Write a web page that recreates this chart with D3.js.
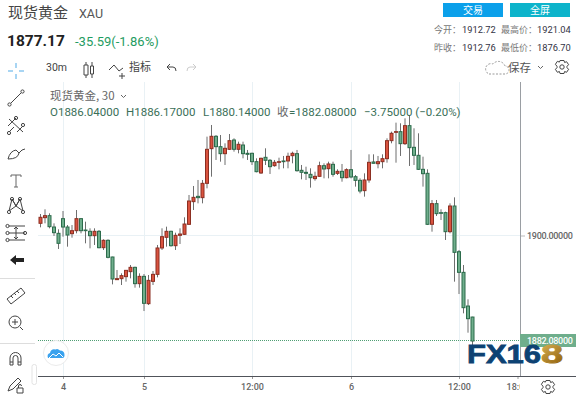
<!DOCTYPE html>
<html>
<head>
<meta charset="utf-8">
<script src="https://cdn.jsdelivr.net/npm/d3@7"></script>
<style>
  html, body { margin: 0; padding: 0; background: #fff; }
  svg { display: block; }
  text { font-family: "Noto Sans CJK SC", Roboto, sans-serif; }
</style>
</head>
<body>
<div id="chart"></div>
<script>
// 30 minute candles
const opens = [1902.07,1903.03,1903.37,1901.44,1900.37,1902.86,1901.44,1900.31,1900.82,1902.86,
  1900.93,1900.71,1899.97,1900.71,1897.93,1899.18,1896.35,1892.50,1892.67,1893.01,
  1893.86,1894.59,1891.82,1893.06,1888.42,1892.21,1893.40,1897.88,1899.69,1900.71,
  1898.27,1900.03,1900.20,1901.90,1905.75,1906.65,1906.43,1908.86,1914.75,1916.85,
  1915.09,1913.90,1914.64,1916.22,1914.64,1915.37,1913.96,1913.96,1912.54,1910.62,
  1913.28,1912.77,1911.86,1912.43,1912.66,1912.66,1913.56,1913.90,1911.07,1910.73,
  1910.39,1909.66,1910.05,1911.86,1911.35,1912.09,1910.56,1910.90,1909.82,1911.18,
  1909.99,1909.37,1907.62,1909.43,1912.49,1912.20,1912.54,1913.05,1916.11,1917.53,
  1917.64,1915.60,1918.66,1914.98,1913.62,1911.24,1910.56,1901.90,1905.41,1903.88,
  1903.88,1900.65,1905.01,1897.25,1893.74,1888.02,1886.15];
const highs = [1903.65,1904.45,1903.77,1902.07,1901.05,1904.16,1901.78,1901.78,1904.33,1902.97,
  1902.35,1901.22,1901.22,1900.93,1899.35,1899.35,1896.40,1894.14,1893.57,1894.14,
  1894.99,1894.71,1893.57,1893.46,1893.29,1893.97,1898.39,1901.22,1901.50,1900.82,
  1900.48,1901.22,1903.09,1906.88,1908.41,1909.43,1909.43,1916.79,1918.77,1917.07,
  1917.07,1915.66,1917.24,1916.51,1915.94,1915.94,1914.53,1914.07,1913.11,1913.22,
  1914.81,1912.99,1912.83,1913.22,1913.51,1914.07,1914.24,1914.53,1911.98,1911.69,
  1911.41,1910.84,1912.54,1912.26,1912.54,1912.54,1911.24,1912.15,1911.41,1914.53,
  1910.28,1909.71,1910.56,1913.79,1913.79,1913.51,1913.79,1916.51,1917.64,1919.17,
  1919.06,1919.90,1920.47,1918.21,1917.36,1913.39,1911.24,1906.03,1906.03,1904.45,
  1904.05,1905.46,1906.48,1897.54,1894.99,1889.16,1886.20];
const lows = [1901.39,1902.07,1901.22,1899.92,1897.71,1899.80,1898.10,1899.63,1900.37,1900.37,
  1898.67,1897.82,1898.39,1897.82,1897.54,1896.12,1891.70,1892.44,1891.59,1892.16,
  1892.72,1891.14,1891.14,1887.17,1888.19,1891.59,1892.89,1897.54,1898.10,1898.10,
  1897.54,1898.56,1900.08,1901.78,1904.33,1905.46,1905.46,1908.01,1909.99,1912.83,
  1912.54,1911.98,1914.53,1914.24,1913.96,1913.11,1912.83,1911.98,1910.73,1910.45,
  1911.98,1910.45,1911.69,1911.24,1911.41,1911.41,1912.26,1910.84,1909.54,1909.43,
  1908.13,1909.31,1909.99,1909.71,1909.71,1909.99,1910.28,1909.14,1909.71,1909.71,
  1908.30,1907.16,1906.60,1908.97,1912.26,1911.41,1911.41,1912.37,1915.66,1912.37,
  1913.51,1915.37,1911.81,1911.98,1911.13,1908.30,1901.78,1900.65,1903.31,1902.63,
  1899.24,1900.37,1892.16,1890.06,1886.78,1883.49,1881.40];
const closes = [1903.09,1903.37,1901.50,1900.48,1898.67,1901.44,1900.08,1900.82,1902.86,1900.82,
  1900.82,1899.97,1900.71,1897.93,1899.18,1896.29,1892.61,1892.67,1893.18,1894.08,
  1894.59,1891.82,1893.06,1888.48,1892.38,1893.40,1897.88,1899.80,1900.71,1898.27,
  1900.03,1900.25,1901.95,1905.86,1906.48,1906.43,1908.86,1914.64,1916.85,1915.09,
  1913.90,1914.81,1916.11,1914.64,1915.49,1913.90,1913.79,1912.54,1910.84,1913.11,
  1912.77,1911.69,1912.43,1912.54,1912.54,1913.45,1913.96,1911.01,1910.73,1910.56,
  1909.82,1910.05,1911.86,1911.30,1912.15,1910.39,1910.90,1909.82,1911.18,1909.94,
  1909.37,1907.56,1909.43,1912.43,1912.26,1912.54,1913.05,1916.11,1917.36,1917.64,
  1915.60,1918.66,1914.92,1913.62,1911.24,1910.50,1901.90,1905.41,1903.71,1903.77,
  1900.65,1905.01,1897.14,1893.74,1887.74,1885.87,1882.08];

// x axis: bar index of each label
const tickBars = [5, 23, 47, 69, 93, 106];
const tickLabels = ["4", "5", "12:00", "6", "12:00", "18:00"];
const priceTicks = [1900];
const lastPrice = 1882.08;

const candles = opens.map((o, i) => ({i: i, o: o, h: highs[i], l: lows[i], c: closes[i]}));

const W = 576, H = 396;
const pane = {left: 38, right: 520, top: 82, bottom: 376};

const UP = "#d9533f", UP_LINE = "#8c2f22";
const DOWN = "#6fae8c", DOWN_LINE = "#2c6b4b";
const GRID = "#e9f1f5";
const AXIS_FONT = 9;

const svg = d3.select("#chart").append("svg").attr("width", W).attr("height", H);

svg.append("clipPath").attr("id", "clip-pane")
  .append("rect").attr("x", pane.left).attr("y", pane.top)
  .attr("width", pane.right - pane.left).attr("height", pane.bottom - pane.top);

// scales
const x = d3.scaleLinear().domain([0, 105]).range([40.5, 513]);
const y = d3.scaleLinear().domain([1882.08, 1900]).range([341, 235.5]);

// grid, the 18:00 line sits against the price axis so it is left out
const grid = svg.append("g");
grid.selectAll(".vgrid").data(tickBars.slice(0, -1)).enter().append("line")
  .attr("x1", d => Math.round(x(d)) + 0.5).attr("x2", d => Math.round(x(d)) + 0.5)
  .attr("y1", pane.top).attr("y2", pane.bottom)
  .attr("stroke", GRID);
grid.selectAll(".hgrid").data(priceTicks).enter().append("line")
  .attr("x1", pane.left).attr("x2", pane.right)
  .attr("y1", d => y(d)).attr("y2", d => y(d))
  .attr("stroke", GRID);

// candles
const plot = svg.append("g").attr("clip-path", "url(#clip-pane)");
plot.selectAll(".wick").data(candles).enter().append("line")
  .attr("class", "wick")
  .attr("x1", d => x(d.i)).attr("x2", d => x(d.i))
  .attr("y1", d => y(d.h)).attr("y2", d => y(d.l))
  .attr("stroke", "#6f6f6f");
plot.selectAll(".body").data(candles).enter().append("rect")
  .attr("class", "body")
  .attr("x", d => x(d.i) - 1.5).attr("width", 3)
  .attr("y", d => y(Math.max(d.o, d.c)))
  .attr("height", d => Math.max(0.5, Math.abs(y(d.o) - y(d.c))))
  .attr("fill", d => d.c >= d.o ? UP : DOWN)
  .attr("stroke", d => d.c >= d.o ? UP_LINE : DOWN_LINE);

// last price line
plot.append("line")
  .attr("x1", pane.left).attr("x2", pane.right)
  .attr("y1", 340.5).attr("y2", 340.5)
  .attr("stroke", "#4f9e74").attr("stroke-dasharray", "1 1");

// price axis
const yAxis = svg.append("g").attr("transform", `translate(${pane.right},0)`)
  .call(d3.axisRight(y).tickValues(priceTicks).tickSize(5).tickPadding(2).tickFormat(d3.format(".5f")));
yAxis.select(".domain").remove();
yAxis.selectAll("line").attr("stroke", "#bbb");
yAxis.selectAll("text").attr("font-size", AXIS_FONT).attr("font-weight", 500).attr("fill", "#666")
  .attr("letter-spacing", -0.3).style("font-family", "Roboto");

svg.append("line").attr("x1", pane.right + 0.5).attr("x2", pane.right + 0.5)
  .attr("y1", pane.top).attr("y2", pane.bottom).attr("stroke", "#9a9ea3");

svg.append("rect").attr("x", pane.right).attr("y", 334).attr("width", W - pane.right).attr("height", 13)
  .attr("fill", "#6fae8c");
svg.append("text").attr("x", 527).attr("y", y(lastPrice) + 3)
  .attr("font-size", AXIS_FONT).attr("fill", "#fff").style("font-family", "Roboto").attr("font-weight", 500)
  .attr("letter-spacing", -0.3)
  .text(d3.format(".5f")(lastPrice));

// time axis, the last label runs under the price axis
svg.append("clipPath").attr("id", "clip-time-axis")
  .append("rect").attr("x", 0).attr("y", -2).attr("width", pane.right).attr("height", 30);
const xAxis = svg.append("g").attr("transform", `translate(0,${pane.bottom})`)
  .attr("clip-path", "url(#clip-time-axis)")
  .call(d3.axisBottom(x).tickValues(tickBars).tickSize(3).tickPadding(5)
    .tickFormat((d, i) => tickLabels[i]));
xAxis.select(".domain").remove();
xAxis.selectAll("line").attr("stroke", "#999");
xAxis.selectAll("text").attr("font-size", AXIS_FONT).attr("font-weight", 500).attr("fill", "#666")
  .style("font-family", "Roboto");

svg.append("line").attr("x1", pane.left).attr("x2", W)
  .attr("y1", pane.bottom + 0.5).attr("y2", pane.bottom + 0.5).attr("stroke", "#50535a");

// watermark
const gold = svg.append("defs").append("linearGradient").attr("id", "gold")
  .attr("x1", 0).attr("x2", 0.6).attr("y1", 0).attr("y2", 1);
gold.append("stop").attr("offset", "0%").attr("stop-color", "#dcb85c");
gold.append("stop").attr("offset", "100%").attr("stop-color", "#96660f");
svg.append("text").attr("x", 467).attr("y", 363).attr("font-size", 25).attr("font-weight", 700)
  .attr("fill", "#0d4273").attr("stroke", "#0d4273").attr("stroke-width", 0.8)
  .style("font-family", "Liberation Sans")
  .attr("textLength", 74).attr("lengthAdjust", "spacingAndGlyphs").text("FX16");
svg.append("text").attr("x", 541).attr("y", 363).attr("font-size", 25).attr("font-weight", 700)
  .attr("fill", "url(#gold)").attr("stroke", "url(#gold)").attr("stroke-width", 0.8)
  .style("font-family", "Liberation Sans")
  .attr("textLength", 22).attr("lengthAdjust", "spacingAndGlyphs").text("8");

// header
function label(txt, px, py, size, fill, opts) {
  const t = svg.append("text").attr("x", px).attr("y", py).attr("font-size", size).attr("fill", fill).text(txt);
  if (opts && opts.weight) t.attr("font-weight", opts.weight);
  if (opts && opts.anchor) t.attr("text-anchor", opts.anchor);
  if (opts && opts.font) t.style("font-family", opts.font);
  return t;
}
label("现货黄金", 8, 18, 15, "#444");
label("XAU", 79, 18, 12.5, "#555", {font: "Roboto"});
label("1877.17", 7, 46, 15.5, "#222", {weight: 700, font: "Roboto"});
label("-35.59(-1.86%)", 75, 46, 13, "#1f9c62", {font: "Roboto"});

svg.append("rect").attr("x", 443).attr("y", 3).attr("width", 60).attr("height", 14).attr("fill", "#0ba0ea");
svg.append("rect").attr("x", 510).attr("y", 3).attr("width", 60).attr("height", 14).attr("fill", "#0db4cb");
label("交易", 473, 14, 10, "#fff", {anchor: "middle"});
label("全屏", 540, 14, 10, "#fff", {anchor: "middle"});

const statLabels = [["今开：", "最高价："], ["昨收：", "最低价："]];
const statValues = [["1912.72", "1921.04"], ["1912.76", "1876.70"]];
[33, 51].forEach((py, r) => {
  label(statLabels[r][0], 434, py, 9, "#777");
  label(statValues[r][0], 462, py, 9.3, "#334", {font: "Roboto"});
  label(statLabels[r][1], 501, py, 9, "#777");
  label(statValues[r][1], 537, py, 9.3, "#334", {font: "Roboto"});
});

// top toolbar
label("30m", 46, 71, 10.5, "#444", {font: "Roboto"});
label("指标", 129, 71, 11, "#444");
label("保存", 508, 72, 11.5, "#555");

const icons = svg.append("g").attr("fill", "none").attr("stroke", "#444").attr("stroke-width", 1);
function icon(d, col) { return icons.append("path").attr("d", d).attr("stroke", col || "#444"); }
function dot(cx, cy) { icons.append("circle").attr("cx", cx).attr("cy", cy).attr("r", 1.6); }
// candles
icon("M86 62v3M86 75v3M84 65h4v10h-4zM92 62v4M92 74v4M90.5 66h3v8h-3z");
// indicator
icon("M109 70l5-5 5 6 4-3M122 73v6M119 76h6");
// undo, redo
icon("M167 67l3-3M167 67l3 3M167 67h6q3 0 3 4");
icon("M196 67l-3-3M196 67l-3 3M196 67h-6q-3 0-3 4", "#ccc");
// cloud
icon("M489 74h16a4 4 0 0 0 0-8 7 7 0 0 0-12-2 5 5 0 0 0-4 10z", "#999").attr("stroke-dasharray", "2 1.5");
icon("M538 66l2.5 2.5 2.5-2.5", "#666");

function gear(cx, cy) {
  icons.append("circle").attr("cx", cx).attr("cy", cy).attr("r", 2.2);
  icons.append("path")
    .attr("d", "M-2-6.5h4l.6 2 2-.8 2 3-1.6 1.6v1.4l1.6 1.6-2 3-2-.8-.6 2h-4l-.6-2-2 .8-2-3 1.6-1.6v-1.4L-6.6-2.7l2-3 2 .8z")
    .attr("transform", `translate(${cx},${cy})`);
}
gear(562, 67);
gear(548, 387);

// legend
label("现货黄金, 30", 50, 100, 11.5, "#666");
icon("M121 95l2.5 2.5 2.5-2.5", "#666");
const LEGEND = "#3a6f58";
label("O1886.04000", 50, 116, 11.5, LEGEND, {font: "Roboto"});
label("H1886.17000", 126, 116, 11.5, LEGEND, {font: "Roboto"});
label("L1880.14000", 203, 116, 11.5, LEGEND, {font: "Roboto"});
label("收", 277, 116, 11.5, "#666");
label("=1882.08000", 289, 116, 11.5, LEGEND, {font: "Roboto"});
label("−3.75000 (−0.20%)", 364, 116, 11.5, LEGEND, {font: "Roboto"});

// left toolbar
icon("M16 63v5M16 74v5M8 71h5M19 71h5", "#8cc8f0").attr("stroke-width", 1.5);
icon("M11 103L21 93");
dot(9.5, 104.5); dot(22.5, 91.5);
icon("M9 119l14 13M9 132l5-5M8 126l8-8M17 132l6-6");
dot(16, 118); dot(23, 125); dot(9, 133);
icon("M8 159q2-8 8-9l3 3q-1 6-11 6zM19 153l3-3 3-1");
icon("M11 175h10v2M16 175v12M14 187h4M11 177v-2", "#666");
icon("M9 211l3-12 4 7 4-7 3 12M12 199l4 7-7 5M20 199l-4 7 7 5");
dot(9, 212); dot(12, 199); dot(20, 199); dot(23, 212);
icon("M9 226h16M9 233h16M9 240h16M16 227v12M14 229l2-2 2 2M14 237l2 2 2-2");
dot(7.500, 226); dot(7.500, 233); dot(7.500, 240); dot(25, 233);
svg.append("path").attr("d", "M10 260l6-5v3h8v4h-8v3z").attr("fill", "#222");
svg.append("line").attr("x1", 0).attr("x2", 35).attr("y1", 278.5).attr("y2", 278.5).attr("stroke", "#ddd");
icon("M7 299l14-11 4 5-14 11zM11 296l2 2M14 293l2 2M17 291l2 2");
icons.append("circle").attr("cx", 15).attr("cy", 322).attr("r", 6);
icon("M12 322h6M15 319v6M20 327l3 3");
svg.append("line").attr("x1", 0).attr("x2", 35).attr("y1", 343.5).attr("y2", 343.5).attr("stroke", "#ddd");
icon("M10 365v-7a5 5 0 0 1 11 0v7h-3v-7a2 2 0 0 0-5 0v7zM10 362h3M18 362h3");
icon("M8 391l2-5 8-8 3 3-8 8zM17 388h6v5h-6zM18.500 388v-2a1.500 1.500 0 0 1 3 0");
svg.append("rect").attr("x", 32).attr("y", 364.5).attr("width", 4.500).attr("height", 20).attr("rx", 2)
  .attr("fill", "#fff").attr("stroke", "#e3e3e3");
icon("M35 372.500l-1.500 2 1.500 2", "#bbb");

// cloud badge
svg.append("circle").attr("cx", 56).attr("cy", 353).attr("r", 12.5).attr("fill", "#fff").attr("stroke", "#ebebeb");
svg.append("path").attr("d", "M48 358q-1.500-4 2-5 1-4.500 5.500-3.500 2-1.500 4.500 1 4.500 0 4.500 4.500 0 3-2 3z").attr("fill", "#3aa2ee");
svg.append("path").attr("d", "M49 358l4-4 3 2 3-3 4 4").attr("fill", "none").attr("stroke", "#fff");
</script>
</body>
</html>
